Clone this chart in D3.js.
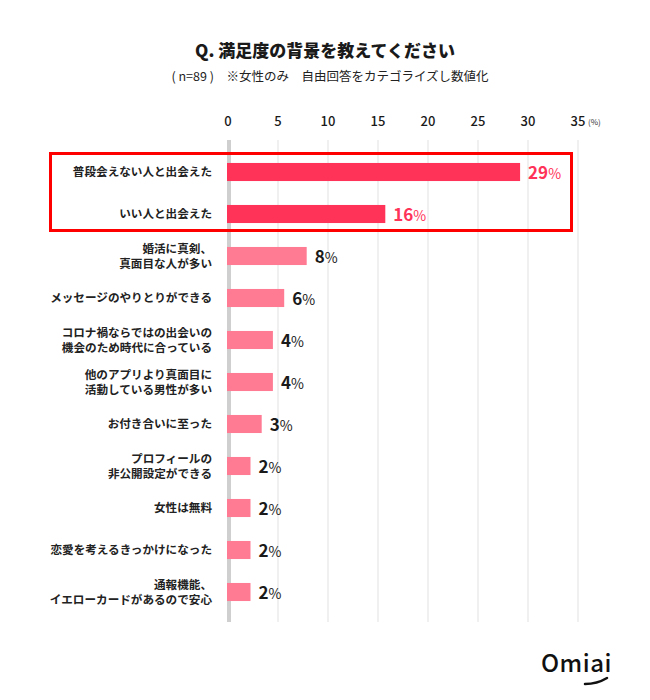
<!DOCTYPE html>
<html><head><meta charset="utf-8">
<script src="https://cdn.jsdelivr.net/npm/d3@7"></script>
<style>
body{margin:0;background:#fff;}
text{font-family:"Noto Sans CJK JP","Noto Sans",sans-serif;}
</style></head>
<body><svg id="c" width="650" height="700"></svg>
<script>
const title = "Q. 満足度の背景を教えてください";
const subtitle = "( n=89 )　※女性のみ　自由回答をカテゴライズし数値化";
const categories = [
  ["普段会えない人と出会えた"],
  ["いい人と出会えた"],
  ["婚活に真剣、","真面目な人が多い"],
  ["メッセージのやりとりができる"],
  ["コロナ禍ならではの出会いの","機会のため時代に合っている"],
  ["他のアプリより真面目に","活動している男性が多い"],
  ["お付き合いに至った"],
  ["プロフィールの","非公開設定ができる"],
  ["女性は無料"],
  ["恋愛を考えるきっかけになった"],
  ["通報機能、","イエローカードがあるので安心"]
];
const values = [29.21, 15.73, 7.87, 5.62, 4.49, 4.49, 3.37, 2.25, 2.25, 2.25, 2.25];
const valueLabels = ["29", "16", "8", "6", "4", "4", "3", "2", "2", "2", "2"];
const highlighted = [true, true, false, false, false, false, false, false, false, false, false];
const ticks = [0, 5, 10, 15, 20, 25, 30, 35];

const svg = d3.select("#c");
const x = d3.scaleLinear().domain([0, 35]).range([228, 578]);
const y = d3.scaleBand().domain(d3.range(categories.length)).range([151, 613]).paddingInner(0.57).paddingOuter(0.285);

svg.append("text").attr("x", 325).attr("y", 57).attr("text-anchor", "middle")
  .attr("font-size", 17).attr("font-weight", 900).attr("fill", "#1a1a1a").text(title);
svg.append("text").attr("x", 330).attr("y", 81).attr("text-anchor", "middle")
  .attr("font-size", 12.5).attr("fill", "#222").text(subtitle);

// grid lines
svg.append("g").selectAll("line").data(ticks.slice(1)).join("line")
  .attr("x1", d => x(d)).attr("x2", d => x(d)).attr("y1", 140).attr("y2", 622)
  .attr("stroke", "#ebebeb").attr("stroke-width", 1.5);
// zero axis
svg.append("rect").attr("x", x(0) - 1).attr("y", 140).attr("width", 4).attr("height", 482).attr("fill", "#cfcfcf");

// tick labels
const tg = svg.append("g");
tg.selectAll("text").data(ticks).join("text")
  .attr("x", d => x(d)).attr("y", 126).attr("text-anchor", "middle")
  .attr("font-size", 13).attr("font-weight", 500).attr("fill", "#1a1a1a").text(d => d);
svg.append("text").attr("x", x(35) + 10).attr("y", 125).attr("font-size", 8).attr("fill", "#333").text("(%)");

// bars
svg.append("g").selectAll("rect").data(values).join("rect")
  .attr("x", x(0) - 1).attr("y", (d, i) => y(i)).attr("height", y.bandwidth())
  .attr("width", d => x(d) - x(0) + 1)
  .attr("fill", (d, i) => highlighted[i] ? "#ff3358" : "#ff7b93");

// category labels
const lg = svg.append("g");
categories.forEach((lines, i) => {
  const cy = y(i) + y.bandwidth() / 2;
  const t = lg.append("text").attr("text-anchor", "end").attr("font-size", 11.6).attr("font-weight", 700).attr("fill", "#222");
  const n = lines.length;
  lines.forEach((l, j) => {
    t.append("tspan").attr("x", 212).attr("y", cy + 4 + (j - (n - 1) / 2) * 15).text(l);
  });
});

// value labels
const vg = svg.append("g");
values.forEach((v, i) => {
  const cy = y(i) + y.bandwidth() / 2;
  const t = vg.append("text").attr("x", x(v) + 8).attr("y", cy + 6.5)
    .attr("fill", highlighted[i] ? "#ff3358" : "#1a1a1a").attr("font-family", "Lato, 'Noto Sans', sans-serif");
  t.append("tspan").attr("font-size", 17).attr("font-weight", 700).text(valueLabels[i]);
  t.append("tspan").attr("font-size", 14).attr("font-weight", 400).text("%");
});

// highlight box
svg.append("rect").attr("x", 50.5).attr("y", 153.5).attr("width", 521).attr("height", 77)
  .attr("fill", "none").attr("stroke", "#ff0000").attr("stroke-width", 3);

// logo
svg.append("text").attr("x", 541).attr("y", 672).attr("font-size", 24).attr("font-weight", 500)
  .attr("font-family", "'Noto Sans', sans-serif").attr("fill", "#111").attr("letter-spacing", 0.5).text("Omiai");
svg.append("path").attr("d", "M585,684 Q597,684 607,678").attr("stroke", "#111").attr("stroke-width", 2.5)
  .attr("fill", "none").attr("stroke-linecap", "round");
</script></body></html>
